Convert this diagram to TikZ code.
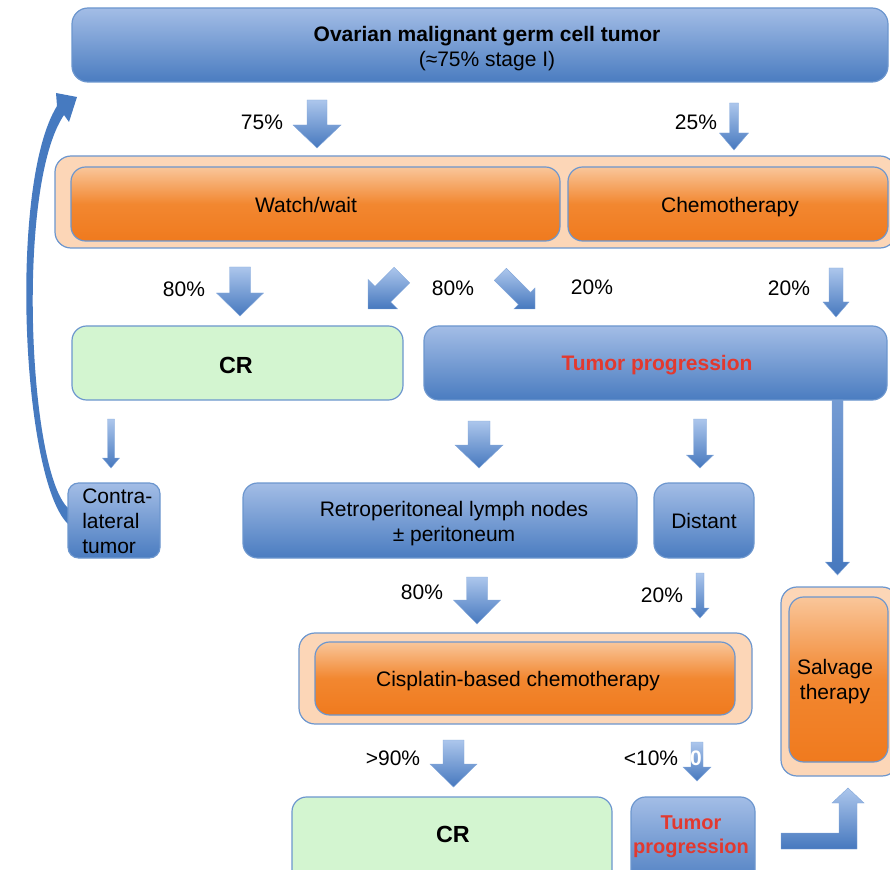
\documentclass[tikz,border=0pt]{standalone}
\usepackage{fontspec}
\setmainfont{Liberation Sans}
\usetikzlibrary{fit}

\definecolor{bTop}{RGB}{163,189,230}
\definecolor{bBot}{RGB}{74,124,192}
\definecolor{bLine}{RGB}{108,150,206}
\definecolor{oTop}{RGB}{249,198,154}
\definecolor{oMid}{RGB}{242,135,48}
\definecolor{oBot}{RGB}{240,122,30}
\definecolor{peach}{RGB}{252,214,183}
\definecolor{mint}{RGB}{211,245,208}
\definecolor{redtxt}{RGB}{226,57,47}
\definecolor{aTop}{RGB}{172,198,236}
\definecolor{aBot}{RGB}{70,120,190}
\definecolor{curveblue}{RGB}{70,122,192}

\newcommand\fsz{\fontsize{15.75}{18.9}\selectfont}

% block arrow pointing down: x, top, tip, shaft half width, head half width, head length
\newcommand\blockdown[6]{%
  \shade[arrowfill] (#1-#4,#2) -- (#1+#4,#2) -- (#1+#4,#3-#6) -- (#1+#5,#3-#6)
    -- (#1,#3) -- (#1-#5,#3-#6) -- (#1-#4,#3-#6) -- cycle;}
% block arrow with its tip at the origin, pointing along +x
\newcommand\blockright[4]{% length, shaft half, head half, head length
  \shade[arrowfill] (0,0) -- (-#4,#3) -- (-#4,#2) -- (-#1,#2) -- (-#1,-#2)
    -- (-#4,-#2) -- (-#4,-#3) -- cycle;}

\tikzset{
  panel/.style={draw=bLine, line width=0.9pt, inner sep=0pt, rounded corners=11pt},
  bluebox/.style={panel, top color=bTop, bottom color=bBot},
  orangebox/.style={panel, top color=oTop, bottom color=oBot, middle color=oMid},
  peachbox/.style={panel, fill=peach, rounded corners=12pt},
  greenbox/.style={panel, fill=mint},
  txt/.style={font=\fsz, align=center, inner sep=0pt, text=black, text depth=0pt},
  hot/.style={txt, font=\fsz\bfseries, text=redtxt},
  big/.style={txt, font=\fontsize{17.5}{21}\selectfont\bfseries},
  arrowfill/.style={top color=aTop, bottom color=aBot, draw=aTop!60!aBot, line width=0.3pt},
}

\begin{document}
\begin{tikzpicture}[x=0.75pt, y=-0.75pt]
\useasboundingbox (0,0) rectangle (890,870);

% curved return arrow from the contralateral tumor back to the top
\fill[curveblue] (68,524) .. controls (22,480) and (8,185) .. (57,106)
  -- (56,93) -- (77,97) -- (69,122) -- (64,115)
  .. controls (16,185) and (28,470) .. (68,508) -- cycle;

% boxes
\node[bluebox, rounded corners=12pt, fit={(72,8) (888,82)}] (top) {};
\node[peachbox, fit={(55,156) (896,248)}] (tierone) {};
\node[orangebox, fit={(71,167) (560,241)}] (watch) {};
\node[orangebox, fit={(568,167) (888,241)}] (chemo) {};
\node[greenbox, fit={(72,326) (403,400)}] (cr) {};
\node[bluebox, fit={(424,326) (887,400)}] (prog) {};
\node[bluebox, rounded corners=8pt, fit={(68,483) (160,558)}] (contra) {};
\node[bluebox, fit={(243,483) (637,558)}] (retro) {};
\node[bluebox, fit={(654,483) (754,558)}] (distant) {};
\node[peachbox, fit={(299,633) (752,724)}] (cisouter) {};
\node[orangebox, fit={(315,642) (735,715)}] (cis) {};
\node[peachbox, fit={(781,587) (898,776)}] (salvouter) {};
\node[orangebox, fit={(789,597) (888,762)}] (salv) {};
\node[greenbox, fit={(292,797) (612,890)}] (crlow) {};
\node[bluebox, fit={(631,797) (755,890)}] (proglow) {};

% box texts
\node[txt] (t-top) at (487,46) {\textbf{Ovarian malignant germ cell tumor}\\(≈75\% stage I)};
\node[txt] (t-watch) at (306,205) {Watch/wait};
\node[txt] (t-chemo) at (730,205) {Chemotherapy};
\node[big] (t-cr) at (236,365) {CR};
\node[hot] (t-prog) at (657,363) {Tumor progression};
\node[txt, align=left, anchor=west] (t-contra) at (82,521) {Contra-\\lateral\\tumor};
\node[txt] (t-retro) at (454,521) {Retroperitoneal lymph nodes\\± peritoneum};
\node[txt] (t-distant) at (704,521) {Distant};
\node[txt] (t-cis) at (518,679) {Cisplatin-based chemotherapy};
\node[txt] (t-salv) at (835,679) {Salvage\\therapy};
\node[big] (t-crlow) at (453,834) {CR};
\node[hot, font=\fontsize{15}{18}\selectfont\bfseries] (t-proglow) at (691,835) {Tumor\\progression};

% percentages
\node[txt] (p75) at (262,122) {75\%};
\node[txt] (p25) at (696,122) {25\%};
\node[txt] (p80a) at (184,289) {80\%};
\node[txt] (p80b) at (453,288) {80\%};
\node[txt] (p20a) at (592,287) {20\%};
\node[txt] (p20b) at (789,288) {20\%};
\node[txt] (p80c) at (422,592) {80\%};
\node[txt] (p20c) at (662,595) {20\%};
\node[txt] (p90) at (393,758) {>90\%};
\node[txt] (p10) at (651,758) {<10\%};

% block arrows
\blockdown{317}{100}{148}{10}{24}{23}
\blockdown{734}{103}{150}{4.5}{14.5}{17}
\blockdown{240}{267}{316}{10.5}{23.5}{23}
\blockdown{836}{268}{317}{7}{13}{15}
\blockdown{111}{419}{468}{3.5}{8.5}{10}
\blockdown{479}{421}{468}{11}{24}{23}
\blockdown{700}{419}{468}{6.5}{13.5}{13}
\blockdown{477}{577}{624}{10.5}{23.5}{24}
\blockdown{700}{573}{618}{4}{9}{10}
\blockdown{453.5}{740}{787}{10.5}{23.5}{23}
\blockdown{697}{742}{781}{6}{14}{14}
% long arrow from tumor progression down to salvage therapy
\shade[arrowfill, top color=aTop!45!aBot] (832,400) -- (843,400) -- (843,562) -- (849.5,562)
  -- (837.5,575) -- (825.5,562) -- (832,562) -- cycle;
\begin{scope}[shift={(368,309)}, rotate=225]
  \blockright{48}{11}{21}{21}
\end{scope}
\begin{scope}[shift={(535,309)}, rotate=315]
  \blockright{49}{8.5}{15}{15}
\end{scope}
% bent arrow from the lower progression box up to salvage therapy
\shade[arrowfill] (781,833) -- (839,833) -- (839,803) -- (832,803) -- (848,788)
  -- (864,803) -- (857,803) -- (857,849) -- (781,849) -- cycle;

\node[txt, font=\fsz\bfseries, text=white] (zero) at (696,758) {0};
\end{tikzpicture}
\end{document}
